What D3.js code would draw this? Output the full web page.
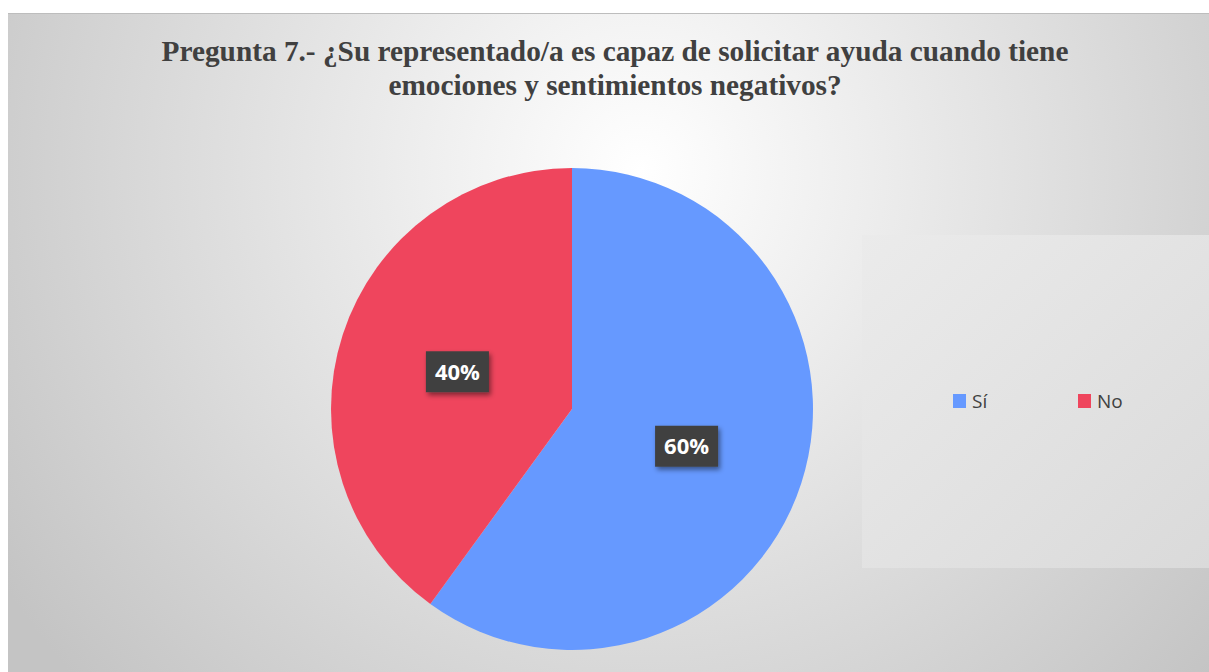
<!DOCTYPE html>
<html>
<head>
<meta charset="utf-8">
<script src="https://cdn.jsdelivr.net/npm/d3@7"></script>
<style>
  body { margin: 0; background: #fff; }
  svg { display: block; }
</style>
</head>
<body>
<svg id="chart" width="1209" height="672"></svg>
<script>
var categories = ['Sí', 'No'];
var values = [60, 40];
var colours = ['#6699FF', '#EF455D'];
var titleLines = [
  'Pregunta 7.- ¿Su representado/a es capaz de solicitar ayuda cuando tiene',
  'emociones y sentimientos negativos?'
];

var svg = d3.select('#chart');
var defs = svg.append('defs');

// background, light near the title, grey to the edges
var bg = defs.append('radialGradient')
  .attr('id', 'bgGrad')
  .attr('gradientUnits', 'userSpaceOnUse')
  .attr('cx', 640).attr('cy', 170).attr('r', 760);
bg.append('stop').attr('offset', '0%').attr('stop-color', '#ffffff');
bg.append('stop').attr('offset', '100%').attr('stop-color', '#c4c4c4');

var lg = defs.append('linearGradient').attr('id', 'legGrad')
  .attr('x1', 0).attr('y1', 0).attr('x2', 1).attr('y2', 1);
lg.append('stop').attr('offset', '0%').attr('stop-color', '#ebebeb');
lg.append('stop').attr('offset', '100%').attr('stop-color', '#dadada');

var sh = defs.append('filter').attr('id', 'shadow')
  .attr('x', '-30%').attr('y', '-30%').attr('width', '160%').attr('height', '160%');
sh.append('feDropShadow').attr('dx', 2).attr('dy', 3).attr('stdDeviation', 2.5)
  .attr('flood-color', '#000').attr('flood-opacity', 0.45);

svg.append('rect')
  .attr('x', 8).attr('y', 13).attr('width', 1201).attr('height', 659)
  .attr('fill', 'url(#bgGrad)');
svg.append('line')
  .attr('x1', 8).attr('x2', 1209).attr('y1', 13.5).attr('y2', 13.5)
  .attr('stroke', '#bdbdbd').attr('stroke-width', 1);

// title
svg.append('text')
  .attr('x', 615).attr('y', 61)
  .attr('text-anchor', 'middle')
  .style('font-family', '"Liberation Serif", "Times New Roman", serif')
  .style('font-weight', 'bold').style('font-size', '29.3px')
  .style('fill', '#404040')
  .selectAll('tspan').data(titleLines).enter().append('tspan')
  .attr('x', 615)
  .attr('dy', function(d, i) { return i === 0 ? 0 : 34; })
  .text(function(d) { return d; });

// legend panel
svg.append('rect')
  .attr('x', 862).attr('y', 235).attr('width', 347).attr('height', 333)
  .attr('fill', 'url(#legGrad)');

// pie
var cx = 572, cy = 409, radius = 241;
var data = categories.map(function(c, i) { return {name: c, value: values[i], colour: colours[i]}; });
var pie = d3.pie().sort(null).value(function(d) { return d.value; });
var arc = d3.arc().innerRadius(0).outerRadius(radius);
var labelArc = d3.arc().innerRadius(radius * 0.5).outerRadius(radius * 0.5);
var total = d3.sum(values);

var g = svg.append('g').attr('transform', 'translate(' + cx + ',' + cy + ')');
var arcs = pie(data);

g.selectAll('path.slice')
  .data(arcs).enter().append('path')
  .attr('class', 'slice')
  .attr('d', arc)
  .attr('fill', function(d) { return d.data.colour; });

var labels = g.selectAll('g.lbl')
  .data(arcs).enter().append('g')
  .attr('class', 'lbl')
  .attr('transform', function(d) {
    var p = labelArc.centroid(d);
    return 'translate(' + p[0] + ',' + p[1] + ')';
  });

labels.append('rect')
  .attr('x', -31.5).attr('y', -20.5).attr('width', 63).attr('height', 41)
  .attr('fill', '#404040')
  .attr('filter', 'url(#shadow)');

labels.append('text')
  .attr('text-anchor', 'middle')
  .attr('dy', '0.36em')
  .style('font-family', '"Open Sans", "DejaVu Sans", sans-serif')
  .style('font-weight', 'bold').style('font-size', '22px')
  .style('fill', '#ffffff')
  .text(function(d) { return Math.round(d.data.value / total * 100) + '%'; });

// legend
var legend = svg.append('g').attr('transform', 'translate(953,394)');
var items = legend.selectAll('g').data(data).enter().append('g')
  .attr('transform', function(d, i) { return 'translate(' + (i * 125) + ',0)'; });
items.append('rect')
  .attr('width', 13).attr('height', 14)
  .attr('fill', function(d) { return d.colour; });
items.append('text')
  .attr('x', 19).attr('y', 14)
  .style('font-family', '"Open Sans", "DejaVu Sans", sans-serif')
  .style('font-size', '19px')
  .style('fill', '#404040')
  .text(function(d) { return d.name; });
</script>
</body>
</html>
